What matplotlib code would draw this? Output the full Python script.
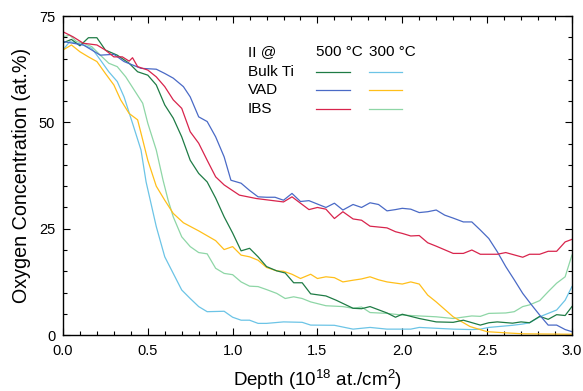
import matplotlib
matplotlib.use("Agg")
import matplotlib.pyplot as plt
from matplotlib.ticker import MultipleLocator
from matplotlib.lines import Line2D

plt.rcParams['font.family'] = ['Liberation Sans', 'DejaVu Sans']
plt.rcParams['mathtext.fontset'] = 'custom'
plt.rcParams['mathtext.rm'] = 'Liberation Sans'
plt.rcParams['mathtext.it'] = 'Liberation Sans'

# Bulk Ti, implanted at 500 °C
bulk500_d = [0, 0.05, 0.1, 0.15, 0.2, 0.25, 0.32, 0.39, 0.44, 0.5, 0.55, 0.6, 0.65, 0.7, 0.75, 0.8, 0.85,
             0.9, 0.95, 1.0, 1.05, 1.1, 1.15, 1.2, 1.26, 1.31, 1.36, 1.41, 1.46, 1.55, 1.61, 1.71, 1.76,
             1.81, 1.91, 1.96, 2.0, 2.1, 2.2, 2.3, 2.36, 2.46, 2.51, 2.56, 2.65, 2.7, 2.75, 2.81, 2.86,
             2.91, 2.96, 3.0]
bulk500_v = [68.7, 69.5, 68.0, 69.9, 69.9, 67, 65.8, 63.9, 61.9, 61.1, 58.8, 54.1, 51, 46.6, 41.1, 38, 36,
             32.2, 27.8, 24, 19.8, 20.4, 18.4, 16.1, 15.1, 14.6, 12.3, 12.3, 9.7, 9.2, 8.2, 6.3, 6.2,
             6.7, 5.2, 4.2, 4.9, 3.9, 3.1, 3.0, 3.5, 2.35, 2.9, 3.1, 2.8, 3.1, 2.9, 4.4, 3.7,
             4.8, 4.6, 6.7]

# VAD, 500 °C
vad500_d = [0, 0.06, 0.12, 0.17, 0.22, 0.3, 0.36, 0.41, 0.46, 0.55, 0.6, 0.65, 0.71, 0.75, 0.8, 0.85, 0.9,
            0.95, 0.99, 1.05, 1.1, 1.15, 1.2, 1.25, 1.3, 1.35, 1.4, 1.45, 1.5, 1.55, 1.6, 1.65, 1.71,
            1.76, 1.81, 1.86, 1.91, 1.96, 2.0, 2.05, 2.1, 2.15, 2.2, 2.25, 2.3, 2.36, 2.41, 2.46, 2.51,
            2.56, 2.61, 2.66, 2.71, 2.76, 2.81, 2.86, 2.91, 2.96, 3.0]
vad500_v = [69, 68.6, 68.2, 67, 65.8, 66, 64.3, 63.5, 62.7, 62.5, 61.5, 60.4, 58.4, 56, 51.3, 50.2, 46.6,
            41.9, 36.4, 35.7, 34, 32.5, 32.4, 32.4, 31.7, 33.3, 31.4, 31.6, 30.8, 30, 31, 29.4, 30.7,
            30, 31.1, 30.7, 29.2, 29.5, 29.8, 29.6, 28.8, 29, 29.4, 28.2, 27.5, 26.6, 26.6, 24.7, 22.7,
            19.6, 16.1, 13, 9.8, 7.2, 4.7, 2.35, 2.35, 1.3, 0.8]

# IBS, 500 °C
ibs500_d = [0, 0.06, 0.12, 0.2, 0.25, 0.3, 0.35, 0.39, 0.41, 0.44, 0.5, 0.55, 0.6, 0.65, 0.7, 0.75, 0.8,
            0.85, 0.9, 0.95, 1.04, 1.14, 1.3, 1.35, 1.4, 1.45, 1.5, 1.55, 1.6, 1.65, 1.71, 1.76, 1.81,
            1.91, 1.96, 2.0, 2.05, 2.1, 2.15, 2.2, 2.3, 2.36, 2.41, 2.46, 2.56, 2.61, 2.71, 2.75, 2.81,
            2.86, 2.91, 2.96, 3.0]
ibs500_v = [71.3, 70.1, 68.6, 68.2, 67, 65.4, 65.4, 64.4, 65.2, 63.1, 62.3, 60.7, 58.4, 55.3, 53.3, 47.8,
            45.1, 41.1, 37.2, 35.3, 32.9, 32.1, 31.3, 32.5, 31.0, 29.5, 30, 29.6, 27.4, 29, 27.3, 27,
            25.6, 25.2, 24.3, 23.9, 23.3, 23.4, 21.7, 20.9, 19.2, 19.2, 20, 19, 19, 19.4, 18.3, 19, 19,
            19.7, 19.7, 21.9, 22.5]

# Bulk Ti, 300 °C
bulk300_d = [0, 0.04, 0.12, 0.17, 0.22, 0.27, 0.32, 0.36, 0.41, 0.46, 0.49, 0.55, 0.6, 0.65, 0.7, 0.75,
             0.8, 0.85, 0.95, 1.0, 1.05, 1.1, 1.15, 1.2, 1.3, 1.41, 1.46, 1.6, 1.71, 1.81, 1.91, 2.05,
             2.1, 2.2, 2.3, 2.41, 2.46, 2.51, 2.65, 2.71, 2.75, 2.81, 2.86, 2.91, 2.96, 3.0]
bulk300_v = [67, 69, 68.2, 67.4, 64.7, 61.9, 59.6, 56, 49.8, 43.5, 36, 25.5, 18.4, 14.5, 10.6, 8.6,
             6.7, 5.5, 5.6, 4.2, 3.5, 3.5, 2.75, 2.75, 3.1, 3.0, 2.35, 2.3, 1.4, 1.8, 1.4, 1.4,
             1.8, 1.6, 1.4, 1.3, 1.4, 1.8, 2.3, 2.6, 2.9, 4.3, 5.1, 5.9, 8.2, 11.4]

# VAD, 300 °C
vad300_d = [0, 0.05, 0.1, 0.15, 0.2, 0.25, 0.3, 0.34, 0.39, 0.44, 0.47, 0.5, 0.55, 0.6, 0.65, 0.71, 0.8,
            0.9, 0.95, 1.0, 1.05, 1.1, 1.15, 1.2, 1.26, 1.3, 1.35, 1.4, 1.46, 1.5, 1.55, 1.6, 1.65, 1.71,
            1.76, 1.81, 1.86, 1.91, 2.0, 2.05, 2.1, 2.15, 2.2, 2.3, 2.4, 2.5, 2.6, 2.71, 3.0]
vad300_v = [67, 68.2, 66.6, 65.4, 64.3, 61.5, 58.8, 55.3, 52.1, 50.6, 45.9, 41.1, 35, 31.7, 28.6, 26.4,
            24.5, 22.2, 20.1, 20.8, 18.8, 18.4, 17.6, 15.9, 15.1, 15.0, 14.3, 13.3, 14.3, 13.3, 13.7,
            13.5, 12.5, 12.9, 13.2, 13.7, 13.0, 12.5, 12, 12.5, 12, 9.4, 7.8, 4.3, 2.0, 0.8, 0.55, 0.3, 0.2]

# IBS, 300 °C
ibs300_d = [0, 0.04, 0.08, 0.12, 0.17, 0.22, 0.27, 0.32, 0.37, 0.42, 0.47, 0.5, 0.55, 0.59, 0.62, 0.65,
            0.7, 0.75, 0.8, 0.85, 0.9, 0.95, 1.0, 1.05, 1.1, 1.15, 1.2, 1.26, 1.31, 1.36, 1.41, 1.46,
            1.55, 1.65, 1.71, 1.76, 1.81, 1.91, 2.0, 2.1, 2.2, 2.3, 2.41, 2.46, 2.51, 2.61, 2.66, 2.71,
            2.75, 2.81, 2.86, 2.91, 2.96, 3.0]
ibs300_v = [70.1, 70.5, 69, 68.6, 67.8, 65.8, 63.9, 63.1, 60.7, 57.6, 54.5, 49.8, 43.5, 36.4, 31.7, 27.8,
            23.1, 20.8, 19.4, 19.1, 15.7, 14.5, 14.2, 12.5, 11.5, 11.4, 10.7, 9.8, 8.6, 9.0, 8.6, 7.8,
            6.9, 6.7, 6.3, 6.6, 5.3, 5.1, 4.7, 4.5, 4.3, 3.9, 4.5, 4.4, 5.1, 5.2, 5.5, 6.7,
            7.1, 8.1, 10.2, 12.2, 13.7, 18.8]

samples = ['Bulk Ti', 'VAD', 'IBS']
temps = ['500 °C', '300 °C']
colors500 = ['#1e7b45', '#4a6ac6', '#d8244c']
colors300 = ['#6cc4e6', '#ffbf1a', '#8ed6a6']

fig = plt.figure(figsize=(5.83, 3.91), dpi=100)
ax = fig.add_axes([0.108, 0.143, 0.873, 0.816])

lw = 0.9
ax.plot(bulk300_d, bulk300_v, color=colors300[0], lw=lw)
ax.plot(ibs300_d, ibs300_v, color=colors300[2], lw=lw)
ax.plot(vad300_d, vad300_v, color=colors300[1], lw=lw)
ax.plot(bulk500_d, bulk500_v, color=colors500[0], lw=lw)
ax.plot(vad500_d, vad500_v, color=colors500[1], lw=lw)
ax.plot(ibs500_d, ibs500_v, color=colors500[2], lw=lw)

ax.set_xlim(0, 3)
ax.set_ylim(0, 75)
ax.xaxis.set_major_locator(MultipleLocator(0.5))
ax.xaxis.set_minor_locator(MultipleLocator(0.1))
ax.yaxis.set_major_locator(MultipleLocator(25))
ax.yaxis.set_minor_locator(MultipleLocator(5))
ax.xaxis.set_major_formatter(matplotlib.ticker.FormatStrFormatter('%.1f'))
ax.tick_params(which='both', direction='in', top=True, right=True, labelsize=10.5, width=0.8)
ax.tick_params(axis='x', which='major', length=5, pad=6.5)
ax.tick_params(axis='y', which='major', length=5, pad=5.5)
ax.tick_params(which='minor', length=3)
for s in ax.spines.values():
    s.set_linewidth(1.0)

ax.set_xlabel('Depth (10$^{18}$ at./cm$^2$)', fontsize=13.5, labelpad=7)
ax.set_ylabel('Oxygen Concentration (at.%)', fontsize=14.2, labelpad=6)

# hand-made legend table
tr = ax.transAxes
head_y = 0.886
ax.text(0.363, head_y, 'II @', transform=tr, fontsize=11, va='center', ha='left')
ax.text(0.497, head_y, temps[0], transform=tr, fontsize=11, va='center', ha='left')
ax.text(0.601, head_y, temps[1], transform=tr, fontsize=11, va='center', ha='left')
rows_y = [0.826, 0.768, 0.710]
for i, name in enumerate(samples):
    ax.text(0.363, rows_y[i], name, transform=tr, fontsize=11, va='center', ha='left')
    ax.add_line(Line2D([0.497, 0.563], [rows_y[i], rows_y[i]], transform=tr, color=colors500[i], lw=lw))
    ax.add_line(Line2D([0.601, 0.667], [rows_y[i], rows_y[i]], transform=tr, color=colors300[i], lw=lw))

fig.savefig('out.png', dpi=100)
